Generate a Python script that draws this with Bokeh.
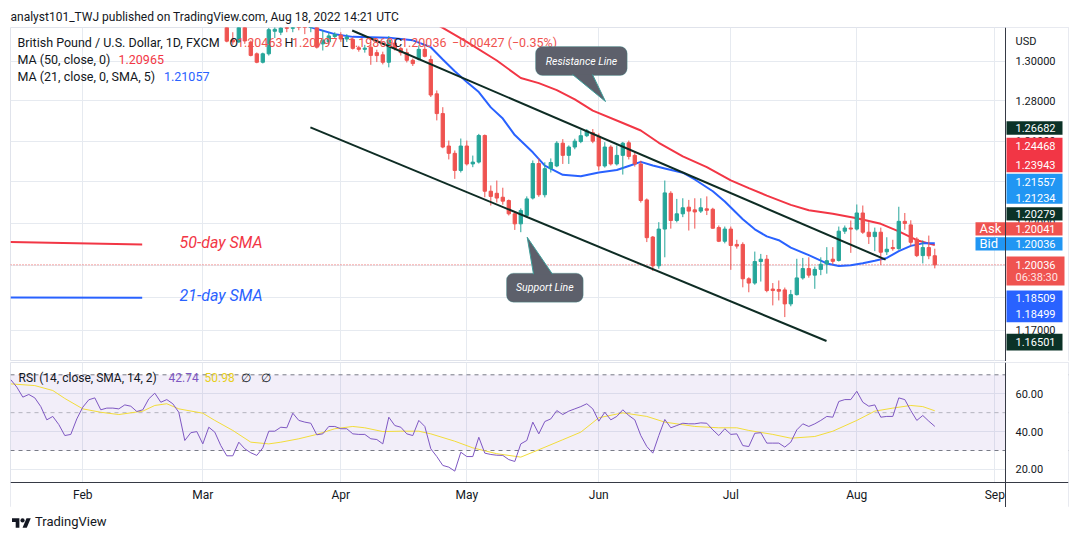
import math
from bokeh.plotting import figure
from bokeh.layouts import column
from bokeh.models import (Range1d, FixedTicker, Span, BoxAnnotation,
                          PolyAnnotation, Label, ColumnDataSource, Div)
from bokeh.core.properties import value
from bokeh.embed import file_html
from bokeh.resources import INLINE

# ------------------------------------------------------------------ data
title_text = "analyst101_TWJ published on TradingView.com, Aug 18, 2022 14:21 UTC"
symbol_text = "British Pound / U.S. Dollar, 1D, FXCM"
change_text = "\u22120.00427 (\u22120.35%)"
ma50_text = "MA (50, close, 0)"
ma21_text = "MA (21, close, 0, SMA, 5)"
rsi_text = "RSI (14, close, SMA, 14, 2)"
currency_text = "USD"

month_names = ["Feb", "Mar", "Apr", "May", "Jun", "Jul", "Aug", "Sep"]
month_bar = [0, 20, 43, 64, 86, 108, 129, 152]      # session index, Feb 1 2022 = 0

candle_bar = list(range(24, 143))
candle_open = [
    1.3250, 1.3110, 1.3100, 1.3190, 1.3099, 1.3039, 1.2996, 1.3039, 1.3155, 1.3150,
    1.3180, 1.3170, 1.3260, 1.3190, 1.3180, 1.3180, 1.3090, 1.3100, 1.3128, 1.3135,
    1.3115, 1.3113, 1.3070, 1.3062, 1.3073, 1.3045, 1.3034, 1.2996, 1.3094, 1.3066,
    1.3045, 1.3006, 1.3011, 1.3062, 1.3010, 1.2836, 1.2737, 1.2576, 1.2540, 1.2456,
    1.2576, 1.2488, 1.2497, 1.2628, 1.2355, 1.2345, 1.2326, 1.2310, 1.2246, 1.2198,
    1.2238, 1.2322, 1.2490, 1.2338, 1.2465, 1.2478, 1.2590, 1.2530, 1.2571, 1.2598,
    1.2627, 1.2642, 1.2624, 1.2478, 1.2571, 1.2488, 1.2530, 1.2592, 1.2530, 1.2488,
    1.2313, 1.2135, 1.1999, 1.2173, 1.2345, 1.2214, 1.2246, 1.2278, 1.2265, 1.2259,
    1.2270, 1.2268, 1.2180, 1.2115, 1.2173, 1.2100, 1.2100, 1.1938, 1.1918, 1.2019,
    1.2030, 1.1890, 1.1888, 1.1886, 1.1821, 1.1864, 1.1942, 1.1986, 1.1955, 1.1982,
    1.2007, 1.2030, 1.2024, 1.2163, 1.2178, 1.2173, 1.2250, 1.2158, 1.2137, 1.2158,
    1.2065, 1.2085, 1.2080, 1.2210, 1.2193, 1.2125, 1.2047, 1.2085, 1.20463]
candle_high = [
    1.3270, 1.3150, 1.3200, 1.3210, 1.3107, 1.3046, 1.3045, 1.3172, 1.3200, 1.3190,
    1.3190, 1.3290, 1.3300, 1.3220, 1.3215, 1.3200, 1.3160, 1.3147, 1.3150, 1.3150,
    1.3140, 1.3125, 1.3080, 1.3085, 1.3090, 1.3060, 1.3050, 1.3130, 1.3114, 1.3075,
    1.3066, 1.3015, 1.3082, 1.3087, 1.3030, 1.2853, 1.2769, 1.2603, 1.2554, 1.2613,
    1.2603, 1.2529, 1.2636, 1.2633, 1.2383, 1.2407, 1.2372, 1.2315, 1.2255, 1.2272,
    1.2330, 1.2505, 1.2515, 1.2496, 1.2515, 1.2600, 1.2610, 1.2579, 1.2612, 1.2656,
    1.2660, 1.2660, 1.2638, 1.2595, 1.2580, 1.2579, 1.2596, 1.2603, 1.2545, 1.2504,
    1.2320, 1.2140, 1.2206, 1.2407, 1.2355, 1.2318, 1.2321, 1.2313, 1.2321, 1.2321,
    1.2330, 1.2275, 1.2190, 1.2185, 1.2185, 1.2122, 1.2110, 1.1945, 1.2066, 1.2055,
    1.2050, 1.1918, 1.1930, 1.1897, 1.1886, 1.2032, 1.2036, 1.2039, 1.1995, 1.2039,
    1.2087, 1.2087, 1.2185, 1.2190, 1.2214, 1.2291, 1.2286, 1.2206, 1.2180, 1.2180,
    1.2134, 1.2122, 1.2280, 1.2250, 1.2215, 1.2134, 1.2119, 1.2142, 1.20797]
candle_low = [
    1.3098, 1.3085, 1.3095, 1.3090, 1.3026, 1.2991, 1.2990, 1.3030, 1.3120, 1.3135,
    1.3150, 1.3150, 1.3160, 1.3140, 1.3150, 1.3066, 1.3056, 1.3086, 1.3120, 1.3100,
    1.3100, 1.3061, 1.3050, 1.3045, 1.2983, 1.2997, 1.2985, 1.2970, 1.3056, 1.3030,
    1.2995, 1.2977, 1.3005, 1.3021, 1.2820, 1.2703, 1.2565, 1.2510, 1.2415, 1.2446,
    1.2480, 1.2472, 1.2490, 1.2326, 1.2286, 1.2300, 1.2290, 1.2238, 1.2169, 1.2158,
    1.2230, 1.2315, 1.2328, 1.2325, 1.2446, 1.2472, 1.2488, 1.2488, 1.2560, 1.2590,
    1.2620, 1.2590, 1.2456, 1.2470, 1.2480, 1.2480, 1.2436, 1.2510, 1.2475, 1.2300,
    1.2111, 1.1975, 1.1985, 1.2039, 1.2175, 1.2205, 1.2230, 1.2166, 1.2175, 1.2250,
    1.2240, 1.2175, 1.2111, 1.2105, 1.1980, 1.2080, 1.1898, 1.1875, 1.1910, 1.1925,
    1.1875, 1.1814, 1.1837, 1.1760, 1.1810, 1.1860, 1.1934, 1.1943, 1.1891, 1.1955,
    1.1962, 1.2005, 1.2019, 1.2150, 1.2060, 1.2166, 1.2150, 1.2102, 1.2068, 1.2003,
    1.2050, 1.2070, 1.2075, 1.2170, 1.2091, 1.2040, 1.2010, 1.2030, 1.19869]
candle_close = [
    1.3104, 1.3100, 1.3185, 1.3105, 1.3031, 1.2996, 1.3039, 1.3163, 1.3165, 1.3172,
    1.3170, 1.3260, 1.3190, 1.3180, 1.3185, 1.3073, 1.3110, 1.3131, 1.3138, 1.3115,
    1.3125, 1.3067, 1.3062, 1.3068, 1.3031, 1.3030, 1.2996, 1.3110, 1.3066, 1.3045,
    1.3006, 1.2989, 1.3062, 1.3026, 1.2830, 1.2737, 1.2571, 1.2540, 1.2456, 1.2576,
    1.2488, 1.2497, 1.2628, 1.2355, 1.2330, 1.2322, 1.2307, 1.2246, 1.2198, 1.2262,
    1.2318, 1.2490, 1.2338, 1.2465, 1.2495, 1.2590, 1.2530, 1.2571, 1.2600, 1.2627,
    1.2651, 1.2600, 1.2478, 1.2571, 1.2488, 1.2530, 1.2590, 1.2525, 1.2488, 1.2310,
    1.2132, 1.1999, 1.2173, 1.2347, 1.2214, 1.2246, 1.2275, 1.2259, 1.2255, 1.2275,
    1.2263, 1.2177, 1.2115, 1.2173, 1.2095, 1.2092, 1.1938, 1.1918, 1.2019, 1.2030,
    1.1883, 1.1883, 1.1880, 1.1821, 1.1864, 1.1942, 1.1986, 1.1955, 1.1982, 1.2006,
    1.2023, 1.2020, 1.2163, 1.2178, 1.2173, 1.2250, 1.2158, 1.2137, 1.2158, 1.2063,
    1.2077, 1.2080, 1.2210, 1.2200, 1.2110, 1.2047, 1.2085, 1.2046, 1.20036]

ma50_bar = [56, 60, 64, 69, 73, 76, 79, 82, 85, 90, 93, 96, 100, 104, 108, 111, 114,
            118, 121, 125, 129, 133, 136, 139, 142]
ma50 = [1.3242, 1.3172, 1.3100, 1.3005, 1.2916, 1.2890, 1.2855, 1.2808, 1.2752, 1.2690,
        1.2653, 1.2592, 1.2525, 1.2472, 1.2408, 1.2370, 1.2334, 1.2289, 1.2263, 1.2246,
        1.2225, 1.2198, 1.2162, 1.2120, 1.20965]
ma21_bar = [36, 38, 42, 45, 51, 55, 58, 60, 62, 64, 66, 68, 70, 72, 75, 77, 80, 83, 86,
            89, 91, 93, 95, 97, 100, 102, 105, 107, 110, 112, 114, 116, 118, 121, 124,
            126, 128, 130, 132, 134, 136, 138, 140, 142]
ma21 = [1.3200, 1.3176, 1.3140, 1.3126, 1.3122, 1.3108, 1.3073, 1.3010, 1.2950, 1.2896,
        1.2845, 1.2768, 1.2712, 1.2630, 1.2545, 1.2480, 1.2435, 1.2428, 1.2446, 1.2458,
        1.2478, 1.2498, 1.2480, 1.2466, 1.2445, 1.2412, 1.2355, 1.2305, 1.2220, 1.2172,
        1.2138, 1.2120, 1.2085, 1.2049, 1.2010, 1.1998, 1.2001, 1.2011, 1.2023, 1.2036,
        1.2068, 1.2093, 1.2105, 1.21057]

rsi_bar = list(range(-12, 143))
rsi = [
    67.4, 63.5, 58.2, 59.6, 57.8, 53.2, 46.2, 48.0, 43.7, 37.9,
    38.5, 46.7, 52.9, 56.8, 57.8, 51.5, 52.4, 52.4, 52.0, 54.1,
    53.4, 50.6, 51.5, 57.3, 60.3, 55.5, 56.9, 54.7, 50.2, 35.3,
    39.4, 40.0, 33.5, 42.3, 39.7, 32.6, 27.2, 27.2, 34.4, 30.9,
    28.8, 27.4, 31.4, 40.2, 40.2, 42.3, 42.0, 49.7, 45.9, 45.0,
    44.4, 38.3, 38.8, 42.7, 42.7, 41.5, 41.5, 38.8, 38.5, 38.5,
    36.2, 35.8, 33.5, 47.6, 43.2, 42.3, 38.8, 37.9, 45.9, 42.7,
    30.9, 26.8, 22.1, 21.2, 19.1, 29.1, 26.8, 26.8, 37.0, 28.6,
    27.9, 27.5, 27.4, 25.2, 24.2, 33.5, 35.3, 45.0, 38.8, 45.3,
    46.7, 51.1, 49.0, 50.8, 52.0, 53.2, 54.7, 52.0, 45.5, 50.2,
    46.2, 48.0, 51.5, 48.5, 46.2, 37.9, 32.1, 28.6, 37.9, 46.4,
    42.0, 43.2, 44.4, 44.1, 44.1, 44.6, 44.4, 40.9, 37.9, 41.5,
    38.5, 38.8, 32.6, 32.1, 39.1, 39.4, 33.9, 33.9, 33.9, 31.8,
    34.4, 40.9, 44.1, 42.7, 44.1, 45.9, 48.0, 47.6, 55.9, 56.9,
    56.9, 61.3, 55.5, 53.4, 54.1, 47.6, 48.0, 48.0, 57.8, 56.9,
    51.1, 45.9, 48.5, 45.5, 42.74]
rsi_ma_bar = [-12, -8, -5, -3, 0, 3, 6, 10, 12, 14, 16, 20, 22, 25, 28, 31, 33, 36, 39,
              42, 45, 47, 50, 53, 56, 58, 62, 65, 69, 73, 76, 80, 83, 86, 90, 94, 97,
              102, 106, 109, 111, 115, 118, 122, 125, 129, 132, 135, 138, 140, 142]
rsi_ma = [65.2, 64.3, 61.7, 57.5, 52.0, 50.2, 49.0, 50.8, 53.8, 54.7, 52.0, 49.7, 45.9,
          40.6, 34.4, 33.5, 34.4, 36.2, 38.5, 41.5, 42.7, 42.0, 40.0, 40.2, 40.2, 38.8,
          34.9, 31.4, 28.3, 26.5, 30.4, 35.7, 39.7, 47.3, 49.9, 48.0, 45.0, 42.7, 42.0,
          42.0, 40.6, 38.5, 36.5, 37.4, 40.2, 45.9, 50.8, 52.4, 53.8, 53.2, 50.98]

price_ticks = [1.17, 1.185, 1.20, 1.22, 1.24, 1.26, 1.28, 1.30]
rsi_ticks = [20, 40, 60]
rsi_bounds = [70, 30]
rsi_mid = 50

# drawings on the chart (bar index, price)
support_bar, support_price = [37.93, 123.95], [1.26682, 1.16501]
resist_bar, resist_price = [44.9, 133.8], [1.3159, 1.20279]
note50_bar, note50_price = [-12.05, 9.9], [1.2111, 1.2100]
note21_bar, note21_price = [-12.05, 9.9], [1.18509, 1.18499]

# price-scale tags: text values
tag_texts = ["1.26682", "1.24468", "1.23943", "1.21557", "1.21234", "1.20279", "1.20041",
             "1.20036", "1.20036", "06:38:30", "1.18509", "1.18499", "1.16501"]

# ------------------------------------------------------------------ geometry / style
PAGE_W = 1079
FRAME_L, FRAME_T = 10, 27
PLOT_W, FRAME_H = 995, 334          # price area width (left of the price scale)
SCALE_W = 63                        # price scale column width
BAR_PX = 6.0
FIRST_MONTH_PX = 82.3
PX_PER_LN = 2550.0
P_TOP = 1.31743
x_start = -(FIRST_MONTH_PX - FRAME_L) / BAR_PX
X_EDGE = x_start + PLOT_W / BAR_PX
X_FULL = x_start + (PLOT_W + SCALE_W) / BAR_PX
P_BOT = P_TOP * math.exp(-FRAME_H / PX_PER_LN)

RSI_T, RSI_H, TIME_H, RSI_PX = 362, 120, 25, 1.8925
RSI_TOP = 70 + (374.3 - RSI_T) / RSI_PX
RSI_AXIS = RSI_TOP - RSI_H / RSI_PX
RSI_LOW = RSI_TOP - (RSI_H + TIME_H) / RSI_PX


def bx(px):
    return x_start + (px - FRAME_L) / BAR_PX


def pr(py):
    return P_TOP * math.exp(-(py - FRAME_T) / PX_PER_LN)


def rv(py):
    return RSI_TOP - (py - RSI_T) / RSI_PX


UP, DOWN = "#26a69a", "#ef5350"
TXT = "#131722"
GRID = "#e6eaf0"
BORDER = "#e0e3eb"
AXIS = "#363a45"
TREND = "#0e2c24"
MA50C, MA21C = "#f23645", "#2962ff"
RSIC, RSIMAC = "#7e57c2", "#f2dc3a"
CALL_FILL, CALL_EDGE = "#5d606b", "#3d9e9a"
TAGGREEN = "#0b3227"
FONT = "Roboto"
RIGHT_PAD = PAGE_W - FRAME_L - PLOT_W - SCALE_W


def lab(fig, x, y, text, color=TXT, size="12.5px", style="normal", align="left", xoff=0):
    fig.add_layout(Label(x=x, y=y, text=text, text_color=color, text_font=FONT,
                         text_font_size=size, text_font_style=style, text_align=align,
                         text_baseline="middle", x_offset=xoff))


# ------------------------------------------------------------------ main pane
p = figure(width=PAGE_W, height=FRAME_T + FRAME_H, x_range=Range1d(x_start, X_FULL),
           y_range=Range1d(P_BOT, P_TOP), y_axis_type="log", y_axis_location="right",
           output_backend="svg", toolbar_location=None, title=title_text,
           min_border_left=FRAME_L, min_border_right=RIGHT_PAD, min_border_top=FRAME_T,
           min_border_bottom=0)
p.title.text_font = FONT
p.title.text_font_size = "12px"
p.title.text_font_style = "normal"
p.title.text_color = TXT
p.title.standoff = 7
p.title.offset = 0
p.outline_line_color = BORDER
p.xaxis.visible = False
p.yaxis.visible = False
p.xgrid.ticker = FixedTicker(ticks=month_bar)
p.ygrid.ticker = FixedTicker(ticks=price_ticks)
p.grid.grid_line_color = GRID

colors = [UP if c >= o else DOWN for o, c in zip(candle_open, candle_close)]
src = ColumnDataSource(dict(
    x=candle_bar, o=candle_open, h=candle_high, l=candle_low, c=candle_close,
    top=[max(o, c) for o, c in zip(candle_open, candle_close)],
    bot=[min(o, c) for o, c in zip(candle_open, candle_close)],
    color=colors))

p.add_layout(Span(location=candle_close[-1], dimension="width", line_color=DOWN,
                  line_dash="1 2", line_width=1, level="underlay"))

p.line(ma50_bar, ma50, line_color=MA50C, line_width=2)
p.line(ma21_bar, ma21, line_color=MA21C, line_width=2)
p.segment(x0="x", y0="l", x1="x", y1="h", line_color="color", line_width=1, source=src)
p.vbar(x="x", width=0.55, top="top", bottom="bot", fill_color="color",
       line_color="color", line_width=1, source=src)

p.line(support_bar, support_price, line_color=TREND, line_width=2)
p.line(resist_bar, resist_price, line_color=TREND, line_width=2)
p.line(note50_bar, note50_price, line_color=MA50C, line_width=2)
p.line(note21_bar, note21_price, line_color=MA21C, line_width=2)

# price scale column: white background, tick labels, then tags on top
p.quad(left=[X_EDGE], right=[X_FULL], bottom=[P_BOT], top=[P_TOP], fill_color="white",
       line_color=None)
p.text(x=[X_EDGE] * len(price_ticks), y=price_ticks, text=[f"{t:.5f}" for t in price_ticks],
       x_offset=10, text_align="left", text_baseline="middle", text_font=value(FONT),
       text_font_size="11px", text_color=TXT)

tag_boxes = [  # (top px, bottom px, left px, right px, colour)
    (120.7, 134.3, 1006, 1062, TAGGREEN),
    (137.3, 171.7, 1006, 1062, "#f23645"),
    (173.3, 203.3, 1006, 1062, "#2196f3"),
    (206.7, 220.0, 1006, 1062, TAGGREEN),
    (221.7, 235.0, 975, 1062, "#ef5350"),
    (236.7, 250.0, 975, 1062, "#2196f3"),
    (256.0, 285.0, 1006, 1064, "#ef5350"),
    (290.0, 321.7, 1006, 1062, "#2962ff"),
    (333.3, 350.0, 1006, 1062, TAGGREEN),
]
p.quad(left=[bx(b[2]) for b in tag_boxes], right=[bx(b[3]) for b in tag_boxes],
       top=[pr(b[0]) for b in tag_boxes], bottom=[pr(b[1]) for b in tag_boxes],
       fill_color=[b[4] for b in tag_boxes], line_color=None)
p.add_layout(Span(location=X_EDGE, dimension="height", line_color=AXIS, line_width=1))

tag_py = [127.3, 145.3, 164.0, 181.7, 197.5, 213.3, 228.3, 243.3, 264.3, 276.7, 297.3, 313.3, 341.7]
tag_fg = ["white"] * 9 + ["#ffe3e3"] + ["white"] * 3
for text, py, fg in zip(tag_texts, tag_py, tag_fg):
    lab(p, X_EDGE, pr(py), text, color=fg, size="11px", xoff=10)
lab(p, X_EDGE, pr(40.7), currency_text, size="11px", xoff=10)
lab(p, bx(979), pr(228.3), "Ask", color="white", size="13px")
lab(p, bx(979), pr(243.3), "Bid", color="white", size="13px")

# legend texts
lab(p, bx(17), pr(41.7), symbol_text)
ohlc = [("O", candle_open[-1]), ("H", candle_high[-1]), ("L", candle_low[-1]), ("C", candle_close[-1])]
letter_px = [229, 284, 341, 393.5]
value_px = [236.5, 291.5, 347.5, 400.5]
for (letter, val), lx, vx in zip(ohlc, letter_px, value_px):
    lab(p, bx(lx), pr(41.7), letter)
    lab(p, bx(vx), pr(41.7), f"{val:.5f}", color=DOWN)
lab(p, bx(451.5), pr(41.7), change_text, color=DOWN)
lab(p, bx(17), pr(59), ma50_text)
lab(p, bx(118), pr(59), f"{ma50[-1]:.5f}", color=MA50C)
lab(p, bx(17), pr(76), ma21_text)
lab(p, bx(163.5), pr(76), f"{ma21[-1]:.5f}", color=MA21C)

# drawing texts
lab(p, bx(179), pr(241.7), "50-day SMA", color=MA50C, size="16px", style="italic")
lab(p, bx(179), pr(295), "21-day SMA", color=MA21C, size="16px", style="italic")


def callout(box_px, tip_px, base_px, text_px, text):
    l, r_, t, b = box_px
    p.add_layout(BoxAnnotation(left=bx(l), right=bx(r_), top=pr(t), bottom=pr(b),
                               fill_color=CALL_FILL, fill_alpha=1.0, line_color=CALL_EDGE,
                               line_width=1, border_radius=7))
    (tx, ty), (b1x, b1y), (b2x, b2y) = tip_px, base_px[0], base_px[1]
    p.add_layout(PolyAnnotation(xs=[bx(b1x), bx(b2x), bx(tx)], ys=[pr(b1y), pr(b2y), pr(ty)],
                                fill_color=CALL_FILL, fill_alpha=1.0, line_alpha=0))
    p.line([bx(b1x), bx(tx)], [pr(b1y), pr(ty)], line_color=CALL_EDGE, line_width=1,
           level="overlay")
    p.line([bx(b2x), bx(tx)], [pr(b2y), pr(ty)], line_color=CALL_EDGE, line_width=1,
           level="overlay")
    lab(p, bx(text_px[0]), pr(text_px[1]), text, color="white", size="10.5px",
        style="italic", align="center")


callout((535, 626.7, 46, 75), (605, 101), [(572, 74), (592, 74)], (581, 60.5), "Resistance Line")
callout((506, 582.7, 272.7, 301.7), (526.7, 236.7), [(533, 273.7), (552, 273.7)], (544.3, 287.2),
        "Support Line")

# ------------------------------------------------------------------ RSI pane + time scale
r = figure(width=PAGE_W, height=1 + RSI_H + TIME_H, x_range=p.x_range,
           y_range=Range1d(RSI_LOW, RSI_TOP), y_axis_location="right",
           output_backend="svg", toolbar_location=None,
           min_border_left=FRAME_L, min_border_right=RIGHT_PAD, min_border_top=1,
           min_border_bottom=0)
r.outline_line_color = BORDER
r.xaxis.visible = False
r.yaxis.visible = False
r.xgrid.ticker = FixedTicker(ticks=month_bar)
r.ygrid.ticker = FixedTicker(ticks=rsi_ticks)
r.grid.grid_line_color = GRID
r.add_layout(BoxAnnotation(bottom=min(rsi_bounds), top=max(rsi_bounds), right=X_EDGE,
                           fill_color=RSIC, fill_alpha=0.1, line_alpha=0, level="underlay"))
for lvl in rsi_bounds:
    r.add_layout(Span(location=lvl, dimension="width", line_color="#787b86",
                      line_dash="4 4", line_width=1, level="underlay"))
r.add_layout(Span(location=rsi_mid, dimension="width", line_color="#787b86",
                  line_alpha=0.5, line_dash="4 4", line_width=1, level="underlay"))
r.line(rsi_ma_bar, rsi_ma, line_color=RSIMAC, line_width=1)
r.line(rsi_bar, rsi, line_color=RSIC, line_width=1)
r.quad(left=[X_EDGE, x_start], right=[X_FULL, X_FULL], bottom=[RSI_AXIS, RSI_LOW],
       top=[RSI_TOP, RSI_AXIS], fill_color="white", line_color=None)
r.add_layout(Span(location=X_EDGE, dimension="height", line_color=AXIS, line_width=1))
r.add_layout(Span(location=RSI_AXIS, dimension="width", line_color=AXIS, line_width=1))
for t in rsi_ticks:
    lab(r, X_EDGE, t, f"{t:.2f}", size="11px", xoff=10)
for b, m in zip(month_bar, month_names):
    lab(r, b, rv(494), m, size="12px", align="center")

lab(r, bx(18), rv(377.3), rsi_text, size="12px")
lab(r, bx(168), rv(377.3), f"{rsi[-1]:.2f}", color=RSIC, size="12px")
lab(r, bx(204), rv(377.3), f"{rsi_ma[-1]:.2f}", color="#e8cf1c", size="12px")
lab(r, bx(240), rv(377.3), "\u2205", size="12px")
lab(r, bx(260), rv(377.3), "\u2205", size="12px")

# ------------------------------------------------------------------ footer logo
logo = Div(text=(
    '<div style="display:flex;align-items:center;height:20px;padding-top:10px;'
    'padding-left:12px;font-family:Roboto;font-size:13px;color:#131722;">'
    '<svg width="19" height="12" viewBox="0 0 36 22">'
    '<path d="M14 22H7V11H0V4h14v18z" fill="#131722"/>'
    '<circle cx="20" cy="8" r="4" fill="#131722"/>'
    '<path d="M28 22h-8l7.5-18h8L28 22z" fill="#131722"/></svg>'
    '<span style="margin-left:4px;">TradingView</span></div>'),
    width=300, height=545 - (FRAME_T + FRAME_H) - (1 + RSI_H + TIME_H), margin=(0, 0, 0, 0))

layout = column(p, r, logo, spacing=0)
open("out.html", "w").write(file_html(layout, INLINE, "GBPUSD"))
